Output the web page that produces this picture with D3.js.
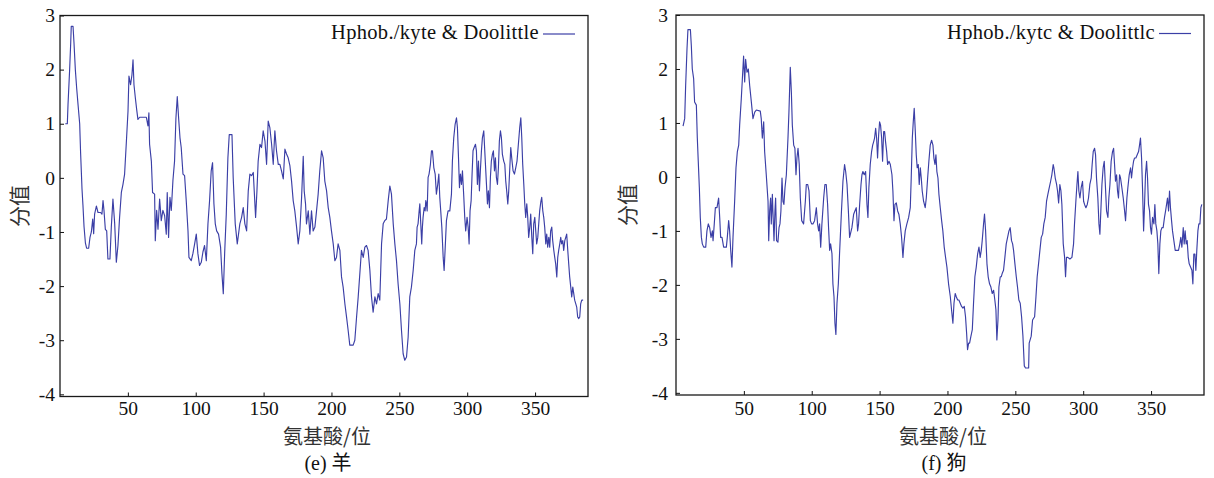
<!DOCTYPE html>
<html>
<head>
<meta charset="utf-8">
<script src="https://cdn.jsdelivr.net/npm/d3@7/dist/d3.min.js"></script>
<style>
  html, body { margin: 0; padding: 0; background: #fff; }
  svg { display: block; }
  .lat { font-family: "Liberation Serif", "Times New Roman", "Noto Sans CJK SC", serif; }
  .cjk { font-family: "Noto Sans CJK SC", "Liberation Serif", serif; }
</style>
</head>
<body>
<svg id="chart" width="1214" height="478"></svg>
<script>
// ---------------- data ----------------
const xTickValues = [50, 100, 150, 200, 250, 300, 350];
const yTickValues = [-4, -3, -2, -1, 0, 1, 2, 3];
const legendLabels = ["Hphob./kyte & Doolittle", "Hphob./kytc & Doolittlc"];
const captions = ["(e) 羊", "(f) 狗"];
const xTitle = "氨基酸/位";
const yTitle = "分值";

// (e) sheep: residue position and hydrophobicity score
const sheepPos = [3.9,5.4,5.9,7.1,7.9,8.3,9.6,10.3,11.3,12.3,13.3,14.5,15.2,16.2,16.9,17.7,18.7,19.6,21.1,22.1,23.1,24.1,24.8,25.5,26.8,28.0,29.9,30.9,31.7,32.4,33.4,34.4,35.3,36.8,37.8,39.0,40.3,41.5,42.7,43.9,45.2,46.4,47.6,48.8,50.1,50.8,52.0,53.0,53.8,54.5,55.5,56.5,57.4,58.7,63.6,64.8,65.5,66.0,67.3,68.2,69.7,70.2,71.2,72.2,73.4,74.6,75.8,77.1,78.3,79.0,80.0,81.0,82.0,83.2,84.4,85.4,86.4,87.4,88.4,89.3,90.6,91.8,93.0,94.3,95.0,96.7,97.9,99.2,100.4,101.6,102.8,104.1,105.3,106.5,107.8,109.0,110.2,111.4,112.4,113.4,114.4,115.4,116.8,118.3,119.3,120.3,121.3,122.5,123.7,124.7,126.7,127.6,129.1,130.6,132.5,133.8,135.0,136.2,137.5,138.7,139.9,141.1,142.4,143.1,144.1,145.1,146.0,147.3,148.5,149.7,151.0,152.2,153.4,154.6,155.9,157.1,158.3,159.5,160.8,162.0,163.2,164.5,165.7,166.9,168.1,169.4,170.6,171.8,173.0,174.3,175.5,176.7,178.0,179.2,179.9,180.9,181.6,182.9,184.1,185.3,186.5,187.8,189.0,190.2,191.4,192.7,193.9,195.1,196.4,197.6,198.8,200.0,201.3,202.5,203.7,204.9,206.2,207.4,208.6,209.9,211.1,212.3,213.5,216.0,217.2,218.5,219.7,220.9,222.1,223.4,224.6,225.8,227.0,228.3,229.5,230.7,232.0,233.2,234.4,235.6,236.9,238.1,239.3,240.5,241.8,243.0,244.2,245.5,246.7,247.9,249.1,250.4,251.6,252.8,254.0,255.3,256.5,257.7,258.9,260.2,261.4,262.6,263.1,263.8,264.6,265.1,265.8,266.5,267.0,267.5,268.3,269.0,269.5,270.0,270.5,271.2,271.9,272.9,273.7,274.4,275.4,276.4,277.3,278.3,279.1,279.8,280.5,281.3,282.3,283.0,283.7,284.7,285.9,287.2,288.4,289.1,290.1,291.1,292.1,292.8,293.5,294.3,295.0,295.8,296.5,297.5,298.2,298.9,299.9,300.7,301.4,302.1,302.9,303.6,304.3,305.1,306.1,306.8,307.5,308.3,309.0,309.7,310.5,311.2,312.2,313.2,314.2,314.9,315.6,316.4,317.1,317.8,318.6,319.3,320.1,320.8,321.5,322.3,323.0,323.7,324.5,325.2,325.9,326.9,327.7,328.4,329.1,329.9,330.6,331.4,332.1,332.8,333.8,334.8,335.8,336.7,337.7,338.7,339.5,340.2,340.9,341.7,342.4,343.1,343.9,344.6,345.3,346.1,346.8,347.6,348.3,349.0,349.8,350.5,351.2,352.0,352.7,353.4,354.2,354.9,355.7,356.4,357.1,357.9,358.6,359.3,360.1,360.8,361.5,362.3,363.0,363.8,364.5,365.2,366.0,366.7,367.4,368.2,368.9,369.6,370.4,371.1,371.9,372.6,373.3,374.1,374.8,375.5,376.3,377.0,377.8,378.5,379.2,380.0,380.7,381.4,382.2,382.9,383.6,384.4,385.4];
const sheepVal = [1.0,1.0,1.35,2.0,2.5,2.8,2.8,2.5,2.0,1.65,1.35,1.0,0.45,-0.2,-0.5,-0.9,-1.2,-1.3,-1.3,-1.1,-1.0,-0.76,-1.03,-0.67,-0.52,-0.64,-0.64,-0.67,-0.42,-0.6,-0.95,-0.98,-1.5,-1.5,-0.91,-0.39,-0.85,-1.56,-1.25,-0.73,-0.27,-0.12,0.07,0.62,1.23,1.88,1.72,1.9,2.18,1.72,1.48,1.26,1.08,1.12,1.12,0.96,1.2,0.62,0.31,-0.27,-0.3,-1.16,-0.6,-0.95,-0.39,-0.79,-0.6,-0.7,-1.04,-0.27,-1.1,-0.36,-0.6,-0.05,0.31,1.1,1.5,1.1,0.74,0.56,0.07,0.04,-0.42,-0.98,-1.47,-1.53,-1.4,-1.22,-1.04,-1.4,-1.62,-1.56,-1.37,-1.25,-1.53,-0.85,-0.42,0.13,0.28,-0.48,-0.85,-0.98,-1.04,-1.28,-1.77,-2.14,-1.4,-0.67,0.37,0.8,0.8,0.0,-0.85,-1.22,-0.85,-0.73,-0.55,-0.85,-0.98,-0.24,0.07,0.04,0.10,-0.24,-0.73,-0.24,0.31,0.62,0.56,0.87,0.68,0.25,1.05,0.93,0.62,0.25,0.87,0.50,0.25,0.25,0.13,-0.02,0.53,0.44,0.37,0.22,-0.06,-0.42,-0.61,-0.91,-1.22,-0.98,-0.36,0.40,-0.24,-0.48,-0.85,-0.61,-1.04,-0.61,-0.98,-0.91,-0.61,-0.30,0.13,0.50,0.37,-0.06,-0.24,-0.55,-0.73,-0.98,-1.22,-1.53,-1.47,-1.22,-1.34,-1.83,-2.02,-2.33,-2.57,-2.82,-3.09,-3.09,-3.00,-2.57,-2.20,-1.77,-1.34,-1.47,-1.28,-1.25,-1.34,-1.71,-2.20,-2.48,-2.20,-2.33,-2.14,-2.26,-1.22,-0.85,-0.79,-0.76,-0.42,-0.15,-0.30,-0.85,-1.22,-1.53,-1.96,-2.33,-2.82,-3.25,-3.37,-3.31,-2.94,-2.20,-2.02,-1.71,-1.34,-1.22,-0.91,-0.85,-0.61,-0.48,-0.85,-1.22,-0.91,-0.73,-0.55,-0.61,-0.42,-0.48,-0.61,0.01,0.07,0.25,0.50,0.50,0.19,0.07,-0.30,-0.12,0.07,-0.36,-0.61,-0.91,-1.47,-1.71,-1.34,-0.79,-0.61,-0.61,-0.30,0.31,0.74,0.99,1.11,0.93,0.44,-0.18,0.07,-0.12,0.13,-0.36,-0.73,-0.98,-0.73,-0.91,-1.22,-0.61,-0.42,0.07,0.50,0.56,0.62,0.50,-0.12,0.31,-0.24,0.13,0.50,0.74,0.87,0.37,-0.12,-0.48,-0.24,-0.55,0.01,0.31,0.44,0.50,0.13,0.37,0.01,-0.12,0.19,0.68,0.87,0.74,0.44,0.31,0.25,-0.06,-0.24,-0.48,-0.24,0.19,0.56,0.37,0.13,0.07,0.19,0.31,0.62,0.93,1.11,0.74,0.25,-0.12,-0.48,-0.73,-0.48,-0.73,-1.10,-0.91,-0.67,-1.10,-1.40,-0.85,-0.73,-0.98,-1.22,-1.10,-0.85,-0.61,-0.45,-0.36,-0.61,-0.73,-0.91,-1.22,-1.04,-1.28,-1.10,-1.28,-0.98,-0.91,-1.16,-1.34,-1.47,-1.59,-1.83,-1.47,-1.34,-1.22,-1.10,-1.22,-1.16,-1.34,-1.16,-1.10,-1.04,-1.34,-1.59,-1.83,-2.02,-2.20,-2.02,-2.14,-2.26,-2.33,-2.39,-2.57,-2.60,-2.57,-2.33,-2.26,-2.26];

// (f) dog: residue position and hydrophobicity score
const dogPos = [5.2,6.4,7.1,8.1,8.8,10.6,11.3,12.0,13.0,13.7,15.0,15.7,16.4,17.2,17.9,18.7,19.4,20.4,21.9,22.8,23.8,24.8,25.8,26.8,27.3,28.2,29.0,30.2,31.4,32.2,32.9,33.9,35.1,37.1,37.8,38.8,39.5,40.3,41.2,42.0,43.2,44.2,45.2,46.2,46.9,48.1,48.9,49.8,50.6,51.3,52.3,53.3,54.3,55.5,56.7,58.0,59.2,62.1,62.8,63.6,64.6,65.3,66.5,67.8,68.3,69.0,69.7,70.2,71.0,71.4,72.2,72.9,73.4,74.1,75.1,75.9,76.6,77.3,78.1,78.8,79.5,80.3,81.3,82.5,83.2,84.2,85.0,85.7,86.7,87.6,88.4,89.1,89.9,90.8,91.6,92.6,94.0,95.3,96.0,97.0,98.0,99.0,99.9,100.9,102.1,103.4,104.3,105.1,105.8,106.6,107.5,108.8,109.7,110.7,111.7,112.4,113.2,113.9,114.9,115.6,116.4,117.1,117.8,118.6,119.6,120.5,121.8,123.0,124.2,125.0,126.0,127.0,127.9,129.6,130.9,131.8,132.8,133.8,134.5,135.3,136.3,137.0,137.7,138.7,139.7,140.7,141.4,142.1,143.1,144.1,144.9,145.6,146.3,147.1,147.8,148.5,149.3,150.0,150.7,151.5,152.2,153.0,153.7,154.4,155.2,155.9,156.9,157.9,159.1,159.8,160.6,161.3,162.3,163.3,164.2,165.2,166.2,167.2,167.9,168.9,170.1,171.4,172.6,173.3,174.1,174.8,175.5,176.3,177.0,177.7,178.5,179.2,180.0,180.7,181.4,182.4,183.6,184.4,185.4,186.3,187.3,188.3,189.3,190.0,190.8,191.5,192.2,193.0,193.7,194.7,195.7,196.6,197.6,198.6,199.6,200.8,202.1,203.0,204.0,204.8,205.7,206.5,207.5,208.4,209.4,210.4,211.4,212.4,213.3,214.1,214.8,215.6,216.3,217.3,218.3,219.2,220.2,221.2,222.2,223.2,224.1,224.9,225.6,226.6,227.3,228.1,229.1,230.0,231.0,232.0,233.0,234.0,234.9,235.7,236.4,237.2,237.9,238.9,239.6,240.3,241.3,242.3,243.3,244.3,245.3,246.2,247.2,248.0,248.7,249.7,250.7,251.6,252.6,253.6,254.6,255.6,256.6,257.5,259.8,260.2,261.7,262.7,264.2,265.2,266.1,267.1,268.1,269.1,270.1,271.0,272.0,273.0,274.0,275.0,276.0,276.9,277.9,278.4,279.4,280.4,281.1,281.9,282.8,283.6,284.3,285.3,286.3,287.0,287.7,288.7,290.2,291.7,292.9,293.6,294.6,295.4,296.1,296.8,297.6,298.5,299.5,300.3,301.0,302.0,303.0,303.9,304.9,305.9,306.6,307.4,308.4,309.1,309.8,310.8,311.6,312.3,313.0,313.8,314.7,315.5,316.2,317.2,318.2,318.9,319.7,320.6,321.6,322.4,323.1,323.8,324.6,325.3,326.0,326.8,327.5,328.5,329.5,330.5,331.2,332.2,332.9,333.9,334.9,335.6,336.4,337.1,337.8,338.8,339.8,340.8,341.5,342.2,343.0,343.7,344.5,345.2,345.9,346.7,347.4,348.1,348.9,349.6,350.3,351.1,352.1,352.8,353.5,354.3,355.0,355.7,356.5,357.2,358.0,358.9,359.9,360.7,361.4,362.1,362.9,363.6,364.3,365.1,365.8,366.8,367.8,369.0,370.2,371.2,371.9,372.7,373.7,374.4,375.1,375.9,376.6,377.4,378.1,379.1,380.1,380.8,381.5,382.3,383.0,383.7,384.5,385.2,386.0,386.7,387.4];
const dogVal = [0.94,1.08,1.69,2.37,2.73,2.73,2.43,2.0,1.82,1.39,1.33,0.72,0.29,-0.20,-0.75,-1.12,-1.24,-1.30,-1.30,-1.0,-0.87,-0.94,-1.12,-1.0,-1.18,-0.87,-0.57,-0.57,-0.39,-0.75,-1.12,-1.12,-1.30,-1.30,-1.12,-0.81,-1.0,-1.36,-1.67,-1.12,-0.45,0.17,0.47,0.59,0.96,1.45,1.82,2.24,1.76,2.18,1.94,2.0,1.69,1.39,1.08,1.20,1.24,1.22,1.08,0.72,1.02,0.47,0.04,-0.45,-1.18,-0.63,-0.39,-0.87,-0.32,-0.63,-1.18,-0.63,-0.39,-1.18,-1.21,-0.94,-0.87,-0.63,-0.02,-0.45,-0.51,-0.20,0.04,0.72,1.20,2.03,1.57,0.96,0.59,0.53,0.04,0.35,0.53,0.23,-0.39,-0.81,-0.87,-0.45,-0.14,-0.14,-0.26,-0.81,-0.87,-0.87,-0.81,-0.57,-0.87,-1.0,-0.87,-1.30,-0.87,-0.39,-0.14,-0.14,-0.51,-0.94,-1.36,-1.24,-1.42,-1.98,-2.22,-2.71,-2.92,-2.34,-1.98,-1.42,-0.69,-0.08,0.23,0.10,-0.14,-0.63,-1.12,-0.94,-0.69,-0.63,-0.57,-1.0,-0.87,-0.51,-0.14,0.04,0.10,0.04,0.10,-0.51,-0.75,-0.20,0.23,0.47,0.59,0.65,0.72,0.90,0.72,0.35,0.78,1.02,0.96,0.72,0.29,0.84,0.84,0.65,0.47,0.23,0.29,0.23,0.04,-0.26,-0.81,-0.51,-0.48,-0.63,-0.69,-0.87,-1.12,-1.49,-1.24,-1.0,-0.87,-0.75,-0.57,-0.02,0.72,1.02,1.27,0.84,0.41,0.17,0.23,-0.14,0.17,-0.02,-0.26,-0.45,-0.57,-0.39,-0.02,0.29,0.59,0.68,0.59,0.35,0.23,0.41,0.10,-0.02,-0.32,-0.57,-0.81,-1.0,-1.30,-1.49,-1.67,-1.98,-2.22,-2.46,-2.71,-2.34,-2.16,-2.22,-2.28,-2.28,-2.34,-2.40,-2.43,-2.40,-2.59,-2.89,-3.20,-3.08,-3.08,-2.95,-2.83,-2.34,-1.85,-1.67,-1.43,-1.30,-1.49,-1.36,-1.18,-0.87,-0.69,-1.00,-1.61,-1.85,-1.98,-2.04,-2.16,-2.10,-2.28,-2.46,-3.02,-2.65,-2.04,-1.85,-1.85,-1.79,-1.73,-1.49,-1.24,-1.12,-1.00,-0.94,-1.18,-1.24,-1.36,-1.61,-1.85,-2.04,-2.28,-2.34,-2.59,-2.95,-3.50,-3.54,-3.54,-3.08,-2.95,-2.65,-2.59,-2.22,-1.85,-1.61,-1.36,-1.12,-1.06,-0.87,-0.75,-0.45,-0.32,-0.20,-0.08,0.04,0.23,0.17,-0.02,-0.14,-0.26,-0.48,-0.14,-0.26,-0.51,-1.24,-1.49,-1.85,-1.49,-1.49,-1.52,-1.49,-1.24,-0.87,-0.45,-0.14,0.10,-0.26,-0.39,-0.20,-0.08,-0.45,-0.51,-0.57,-0.51,-0.39,-0.14,-0.02,0.23,0.47,0.53,0.41,-0.02,-0.39,-0.87,-1.06,-0.63,-0.14,0.17,0.29,-0.08,-0.63,-0.75,-0.39,-0.14,0.29,0.47,0.53,0.23,-0.08,0.04,-0.26,-0.39,0.04,-0.02,-0.20,-0.39,-0.63,-0.81,-0.39,-0.20,0.04,0.17,-0.02,0.17,0.29,0.35,0.35,0.41,0.47,0.59,0.72,0.35,-0.20,-1.0,-0.51,0.04,0.29,-0.02,-0.51,-0.63,-0.94,-1.06,-0.75,-0.87,-0.51,-0.87,-1.0,-1.24,-1.79,-1.24,-1.0,-0.94,-0.94,-0.75,-0.63,-0.51,-0.39,-0.63,-0.26,-0.57,-0.81,-1.0,-1.18,-1.36,-1.36,-1.36,-1.24,-1.12,-1.30,-0.94,-1.24,-1.0,-1.24,-1.18,-1.49,-1.61,-1.67,-1.73,-1.98,-1.43,-1.43,-1.73,-1.36,-1.0,-0.87,-0.87,-0.57,-0.51];

// ---------------- drawing ----------------
const svg = d3.select("#chart");
const lineColor = "#3b3fa6";

const panels = [
  { pos: sheepPos, val: sheepVal, left: 60, right: 588, top: 15.5, bottom: 396.5,
    yPad: 5, xPad: 5, legend: legendLabels[0], caption: captions[0], yTitleX: 18 },
  { pos: dogPos, val: dogVal, left: 676, right: 1204, top: 15, bottom: 395,
    yPad: 8, xPad: 6.5, legend: legendLabels[1], caption: captions[1], yTitleX: 626 }
];

panels.forEach((p, i) => {
  const x = d3.scaleLinear().domain([0, 389]).range([p.left, p.right]);
  const y = d3.scaleLinear().domain([-4.04, 3]).range([p.bottom, p.top]);
  const g = svg.append("g");

  const clipId = "clip" + i;
  svg.append("clipPath").attr("id", clipId).append("rect")
    .attr("x", p.left).attr("y", p.top)
    .attr("width", p.right - p.left).attr("height", p.bottom - p.top);

  // x axis
  const xAxis = g.append("g")
    .attr("transform", `translate(0,${p.bottom})`)
    .call(d3.axisBottom(x).tickValues(xTickValues).tickSizeInner(-4).tickSizeOuter(0)
      .tickPadding(p.xPad).tickFormat(d => String(d)));
  xAxis.select(".domain").remove();
  xAxis.selectAll("line").attr("stroke", "#111").attr("stroke-width", 1);
  xAxis.selectAll("text").attr("class", "lat").attr("font-size", 19.5).attr("fill", "#111");

  // y axis
  const yAxis = g.append("g")
    .attr("transform", `translate(${p.left},0)`)
    .call(d3.axisLeft(y).tickValues(yTickValues).tickSizeInner(-4).tickSizeOuter(0)
      .tickPadding(p.yPad).tickFormat(d => String(d)));
  yAxis.select(".domain").remove();
  yAxis.selectAll("line").attr("stroke", "#111").attr("stroke-width", 1);
  yAxis.selectAll("text").attr("class", "lat").attr("font-size", 19.5).attr("fill", "#111");

  // frame
  g.append("rect")
    .attr("x", p.left).attr("y", p.top)
    .attr("width", p.right - p.left).attr("height", p.bottom - p.top)
    .attr("fill", "none").attr("stroke", "#1a1a1a").attr("stroke-width", 1.3);

  // series line
  const pts = p.pos.map((d, k) => [d, p.val[k]]);
  g.append("path")
    .datum(pts)
    .attr("clip-path", `url(#${clipId})`)
    .attr("fill", "none")
    .attr("stroke", lineColor)
    .attr("stroke-width", 1.15)
    .attr("stroke-linejoin", "round")
    .attr("d", d3.line().x(d => x(d[0])).y(d => y(d[1])));

  // legend
  const legY = p.top + 18.5;
  g.append("line")
    .attr("x1", p.right - 45).attr("x2", p.right - 13)
    .attr("y1", legY).attr("y2", legY)
    .attr("stroke", lineColor).attr("stroke-width", 1.2);
  g.append("text")
    .attr("class", "lat")
    .attr("x", p.right - 49).attr("y", legY + 5)
    .attr("text-anchor", "end")
    .attr("font-size", 20.5)
    .attr("letter-spacing", 0.3)
    .attr("fill", "#111")
    .text(p.legend);

  const cx = (p.left + p.right) / 2;
  // x title
  g.append("text")
    .attr("class", "cjk")
    .attr("x", cx + 3).attr("y", 443.5)
    .attr("text-anchor", "middle")
    .attr("font-size", 20)
    .attr("fill", "#333")
    .text(xTitle);

  // y title
  g.append("text")
    .attr("class", "cjk")
    .attr("transform", `translate(${p.yTitleX},${(p.top + p.bottom) / 2}) rotate(-90)`)
    .attr("text-anchor", "middle")
    .attr("dominant-baseline", "central")
    .attr("font-size", 21)
    .attr("fill", "#333")
    .text(yTitle);

  // caption
  g.append("text")
    .attr("class", "lat")
    .attr("x", cx + 4).attr("y", 470)
    .attr("text-anchor", "middle")
    .attr("font-size", 20)
    .attr("fill", "#111")
    .text(p.caption);
});
</script>
</body>
</html>
